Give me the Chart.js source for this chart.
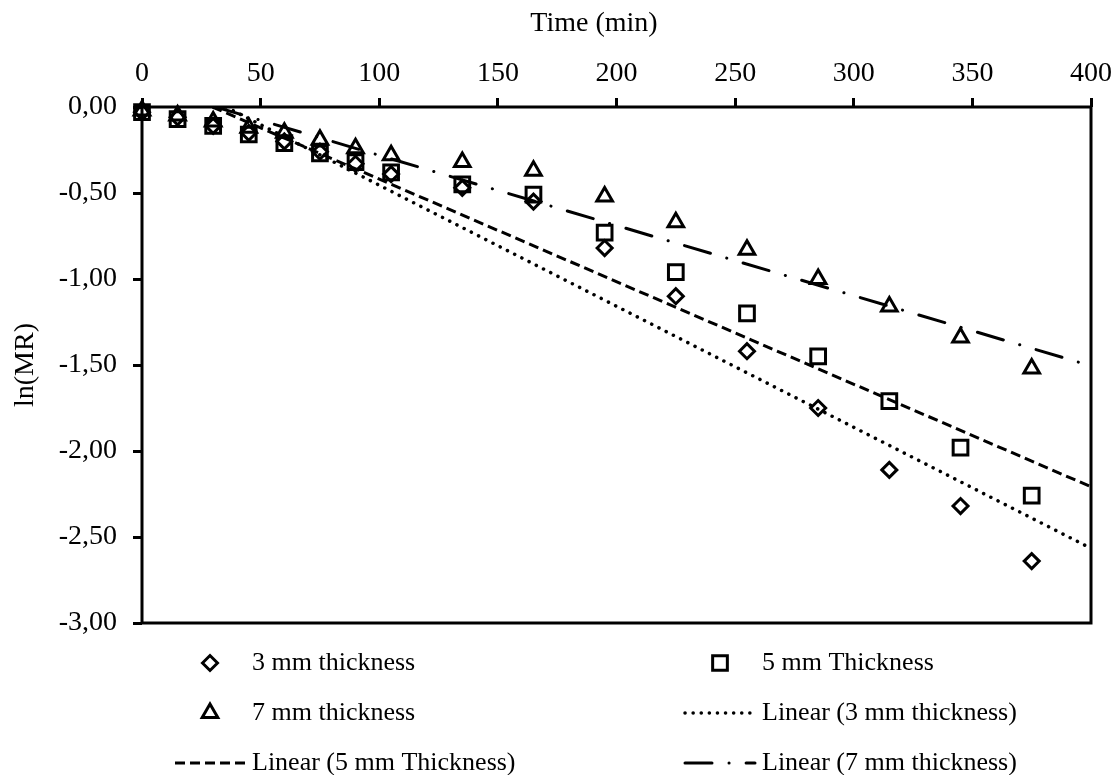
<!DOCTYPE html>
<html>
<head>
<meta charset="utf-8">
<title>ln(MR) vs drying time</title>
<script src="https://cdn.jsdelivr.net/npm/chart.js@4/dist/chart.umd.min.js"></script>
<style>
  html, body { margin: 0; padding: 0; background: #ffffff; }
  #wrap { width: 1120px; height: 775px; }
  canvas { display: block; }
</style>
</head>
<body>
<div id="wrap"><canvas id="chart" width="1120" height="775"></canvas></div>
<script>
// Drying time, minutes
const times = [0, 15, 30, 45, 60, 75, 90, 105, 135, 165, 195, 225, 255, 285, 315, 345, 375];

// ln(MR) measured for each slice thickness
const lnMR3mm = [-0.03, -0.06, -0.11, -0.15, -0.20, -0.26, -0.33, -0.39, -0.47, -0.55, -0.82, -1.10, -1.42, -1.75, -2.11, -2.32, -2.64];
const lnMR5mm = [-0.03, -0.07, -0.11, -0.16, -0.21, -0.27, -0.32, -0.38, -0.45, -0.51, -0.73, -0.96, -1.20, -1.45, -1.71, -1.98, -2.26];
const lnMR7mm = [-0.02, -0.05, -0.085, -0.12, -0.15, -0.19, -0.24, -0.28, -0.32, -0.37, -0.52, -0.67, -0.83, -1.00, -1.16, -1.34, -1.52];

// Linear trendlines: the time where each crosses ln(MR) = 0, and its value at 400 min
const linear3mmX = [35.4, 400];
const linear3mmY = [0, -2.566];
const linear5mmX = [29.7, 400];
const linear5mmY = [0, -2.208];
const linear7mmX = [31.1, 400];
const linear7mmY = [0, -1.505];

// Axis ticks
const xTickValues = [0, 50, 100, 150, 200, 250, 300, 350, 400];
const xTickLabels = ['0', '50', '100', '150', '200', '250', '300', '350', '400'];
const yTickValues = [-3, -2.5, -2, -1.5, -1, -0.5, 0];
const yTickLabels = ['-3,00', '-2,50', '-2,00', '-1,50', '-1,00', '-0,50', '0,00'];

const SERIF = '"Liberation Serif", "Times New Roman", Times, serif';
Chart.defaults.font.family = SERIF;
Chart.defaults.color = '#000000';

const toPoints = (xs, ys) => xs.map((x, i) => ({ x: x, y: ys[i] }));

function markerSet(label, values, style, radius) {
  return {
    label: label,
    data: toPoints(times, values),
    showLine: false,
    pointStyle: style,
    pointRadius: radius,
    pointHoverRadius: radius,
    pointBorderWidth: 3,
    pointBorderColor: '#000000',
    pointBackgroundColor: 'rgba(0,0,0,0)',
    borderColor: '#000000',
    backgroundColor: 'rgba(0,0,0,0)',
    clip: false
  };
}

function trendSet(label, xs, ys, dash, cap, width) {
  return {
    label: label,
    data: toPoints(xs, ys),
    showLine: true,
    pointRadius: 0,
    pointHoverRadius: 0,
    borderColor: '#000000',
    backgroundColor: 'rgba(0,0,0,0)',
    borderWidth: width,
    borderDash: dash,
    borderCapStyle: cap,
    fill: false
  };
}

// Black frame around the plot area
const plotFrame = {
  id: 'plotFrame',
  beforeDatasetsDraw(chart) {
    const { ctx, chartArea: a } = chart;
    ctx.save();
    ctx.strokeStyle = '#000000';
    ctx.lineWidth = 3;
    ctx.setLineDash([]);
    ctx.strokeRect(a.left, a.top, a.right - a.left, a.bottom - a.top);
    ctx.restore();
  }
};

// Axis title above the top time axis
const timeTitle = {
  id: 'timeTitle',
  afterDraw(chart, args, opts) {
    const ctx = chart.ctx;
    ctx.save();
    ctx.font = opts.size + 'px ' + SERIF;
    ctx.fillStyle = '#000000';
    ctx.textAlign = 'center';
    ctx.textBaseline = 'middle';
    ctx.fillText(opts.text, opts.x, opts.y);
    ctx.restore();
  }
};

// Two-column legend under the plot, built from the datasets' own styles
const gridLegend = {
  id: 'gridLegend',
  afterDraw(chart, args, opts) {
    const ctx = chart.ctx;
    const sets = chart.data.datasets;
    opts.items.forEach(item => {
      const ds = sets[item.ds];
      const x0 = opts.colX[item.col];
      const y = opts.rowY[item.row];
      ctx.save();
      ctx.strokeStyle = '#000000';
      ctx.fillStyle = 'rgba(0,0,0,0)';
      if (ds.showLine) {
        ctx.lineWidth = ds.borderWidth;
        ctx.setLineDash(ds.borderDash || []);
        ctx.lineCap = ds.borderCapStyle || 'butt';
        ctx.beginPath();
        ctx.moveTo(x0, y);
        ctx.lineTo(x0 + opts.sampleWidth, y);
        ctx.stroke();
      } else {
        ctx.lineWidth = ds.pointBorderWidth;
        ctx.setLineDash([]);
        Chart.helpers.drawPoint(ctx, {
          pointStyle: ds.pointStyle,
          radius: ds.pointRadius,
          rotation: 0,
          borderWidth: ds.pointBorderWidth
        }, x0 + opts.sampleWidth / 2, y);
      }
      ctx.setLineDash([]);
      ctx.font = opts.size + 'px ' + SERIF;
      ctx.fillStyle = '#000000';
      ctx.textAlign = 'left';
      ctx.textBaseline = 'middle';
      ctx.fillText(ds.label, x0 + opts.sampleWidth + opts.gap, y);
      ctx.restore();
    });
  }
};

const tickFont = { family: SERIF, size: 28 };

new Chart(document.getElementById('chart'), {
  type: 'scatter',
  data: {
    datasets: [
      markerSet('3 mm thickness', lnMR3mm, 'rectRot', 7.5),
      markerSet('5 mm Thickness', lnMR5mm, 'rect', 10.4),
      markerSet('7 mm thickness', lnMR7mm, 'triangle', 9),
      trendSet('Linear (3 mm thickness)', linear3mmX, linear3mmY, [0.1, 8], 'round', 3.5),
      trendSet('Linear (5 mm Thickness)', linear5mmX, linear5mmY, [10, 5], 'butt', 3),
      trendSet('Linear (7 mm thickness)', linear7mmX, linear7mmY, [27, 17, 0.1, 17], 'round', 3)
    ]
  },
  options: {
    responsive: false,
    devicePixelRatio: 1,
    animation: false,
    events: [],
    layout: { padding: { left: 0, top: 0, right: 27, bottom: 152 } },
    scales: {
      x: {
        type: 'linear',
        position: 'top',
        min: 0,
        max: 400,
        afterBuildTicks: s => { s.ticks = xTickValues.map(v => ({ value: v })); },
        afterFit: s => { s.height = 107; },
        ticks: {
          font: tickFont,
          color: '#000000',
          padding: 8,
          maxRotation: 0,
          autoSkip: false,
          callback: v => xTickLabels[xTickValues.indexOf(v)]
        },
        grid: {
          display: true,
          drawOnChartArea: false,
          drawTicks: true,
          tickLength: 9,
          tickWidth: 3,
          tickColor: '#000000'
        },
        border: { display: false },
        title: { display: false }
      },
      y: {
        type: 'linear',
        position: 'left',
        min: -3,
        max: 0,
        afterBuildTicks: s => { s.ticks = yTickValues.map(v => ({ value: v })); },
        afterFit: s => { s.width = 142; },
        ticks: {
          font: tickFont,
          color: '#000000',
          padding: 16,
          autoSkip: false,
          callback: v => yTickLabels[yTickValues.indexOf(v)]
        },
        grid: {
          display: true,
          drawOnChartArea: false,
          drawTicks: true,
          tickLength: 9,
          tickWidth: 3,
          tickColor: '#000000'
        },
        border: { display: false },
        title: {
          display: true,
          text: 'ln(MR)',
          font: { family: SERIF, size: 28 },
          color: '#000000',
          padding: { top: 9, bottom: 0 }
        }
      }
    },
    plugins: {
      legend: { display: false },
      tooltip: { enabled: false },
      timeTitle: { text: 'Time (min)', x: 594, y: 24, size: 28 },
      gridLegend: {
        size: 26,
        colX: [175, 685],
        rowY: [663, 713, 763],
        sampleWidth: 70,
        gap: 7,
        items: [
          { ds: 0, col: 0, row: 0 },
          { ds: 1, col: 1, row: 0 },
          { ds: 2, col: 0, row: 1 },
          { ds: 3, col: 1, row: 1 },
          { ds: 4, col: 0, row: 2 },
          { ds: 5, col: 1, row: 2 }
        ]
      }
    }
  },
  plugins: [plotFrame, timeTitle, gridLegend]
});
</script>
</body>
</html>
